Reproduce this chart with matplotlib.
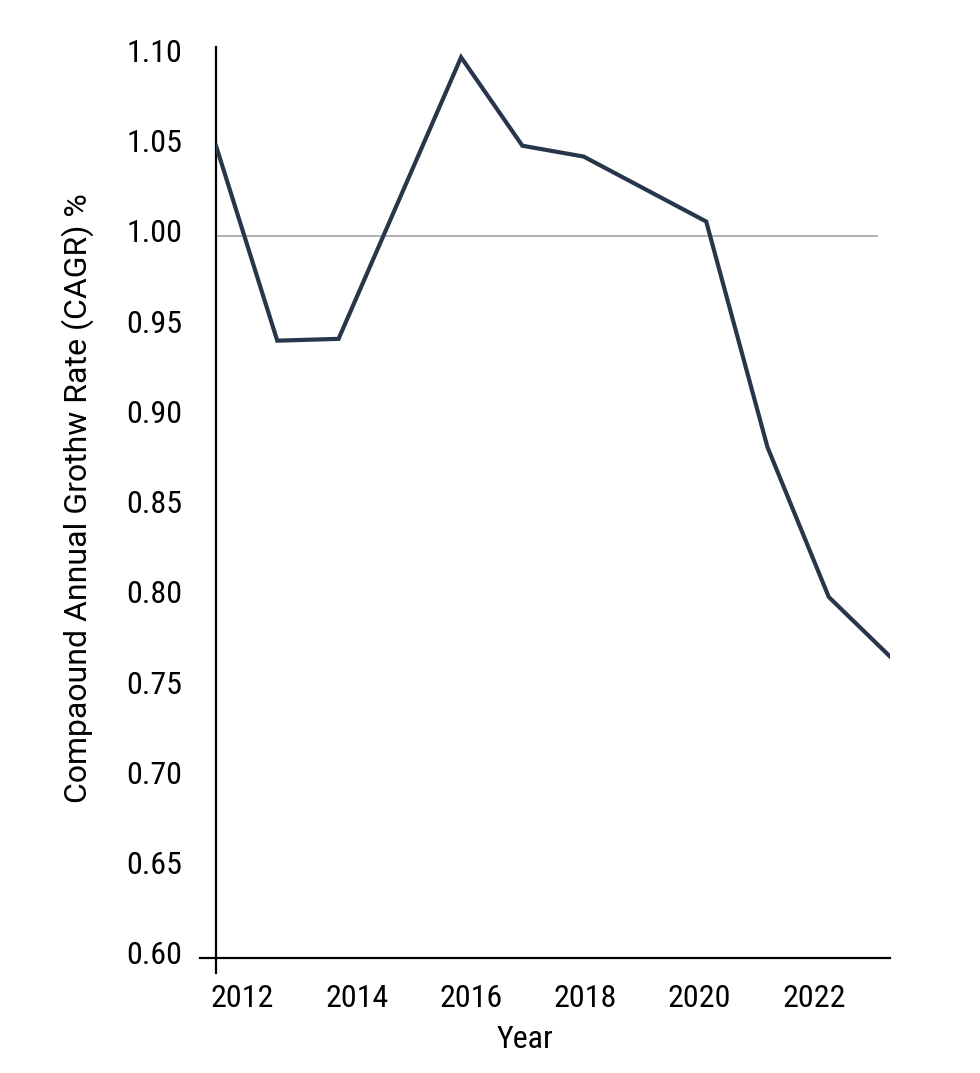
import matplotlib
matplotlib.use("Agg")
import matplotlib.pyplot as plt
from matplotlib import font_manager
from matplotlib.transforms import ScaledTranslation

# data
years = [2012, 2013, 2014, 2016, 2017, 2018, 2020, 2021, 2022, 2023]
cagr = [1.050, 0.942, 0.943, 1.099, 1.050, 1.044, 1.008, 0.883, 0.800, 0.767]

y_ticks = [0.60, 0.65, 0.70, 0.75, 0.80, 0.85, 0.90, 0.95, 1.00, 1.05, 1.10]
x_tick_years = [2012, 2014, 2016, 2018, 2020, 2022]
reference_level = 1.0

BASE = ["Roboto", "Liberation Sans", "DejaVu Sans"]


def pick_font():
    # prefer a narrow face, the reference uses a condensed sans
    for fam, stretch in [("Roboto Condensed", "normal"), ("Roboto", "condensed"),
                         ("Liberation Sans Narrow", "normal"), ("Arial Narrow", "normal")]:
        try:
            path = font_manager.findfont(font_manager.FontProperties(family=fam, stretch=stretch),
                                         fallback_to_default=False)
        except ValueError:
            continue
        name = path.lower()
        if "condensed" in name or "narrow" in name:
            return font_manager.FontProperties(fname=path)
    return None


narrow = pick_font()
plt.rcParams["font.family"] = BASE


def style(size):
    if narrow is not None:
        fp = narrow.copy()
        fp.set_size(size)
        return fp
    return font_manager.FontProperties(family=BASE, size=size)


fig = plt.figure(figsize=(9.8, 10.73), dpi=100)
ax = fig.add_axes([0.2204, 0.1072, 0.6878, 0.849])

ax.axhline(reference_level, xmin=0.003, xmax=0.981, color="#aaaaaa", lw=1.3, zorder=1)
ax.plot(years, cagr, color="#28364c", lw=3, solid_joinstyle="miter", zorder=3)

ax.set_xlim(2012, 2023)
ax.set_ylim(0.60, 1.1047)

for side in ("top", "right"):
    ax.spines[side].set_visible(False)
for side in ("left", "bottom"):
    ax.spines[side].set_linewidth(1.6)
    ax.spines[side].set_color("black")

# small overhangs at the origin corner
ax.plot([0, 0], [0, -0.016], transform=ax.transAxes, clip_on=False, color="black", lw=1.6)
ax.plot([0, -0.024], [0, 0], transform=ax.transAxes, clip_on=False, color="black", lw=1.6)

ax.set_yticks(y_ticks)
ax.set_yticklabels([f"{v:.2f}" for v in y_ticks], fontproperties=style(23))
ax.tick_params(axis="y", length=0, pad=24)
offset = ScaledTranslation(0, 0.05, fig.dpi_scale_trans)
for lab in ax.get_yticklabels():
    lab.set_transform(lab.get_transform() + offset)

ax.set_xticks([])

# year labels sit on their own scale, not aligned with the data points
ax2 = ax.twiny()
ax2.set_xlim(2011.536, 2023.33)
ax2.xaxis.set_ticks_position("bottom")
ax2.xaxis.set_label_position("bottom")
ax2.set_xticks(x_tick_years)
ax2.set_xticklabels([str(y) for y in x_tick_years], fontproperties=style(23))
ax2.tick_params(axis="x", length=0, pad=19)
for side in ax2.spines:
    ax2.spines[side].set_visible(False)

fig.text(525 / 980, 1 - 1040 / 1073, "Year", fontproperties=style(23), ha="center", va="center")
# the reference label is letter-spaced, a regular width face gives the same length
fig.text(78 / 980, 1 - 498 / 1073, "Compaound Annual Grothw Rate (CAGR) %",
         family=BASE, fontsize=23, rotation=90, ha="center", va="center")

fig.savefig("out.png", dpi=100)
